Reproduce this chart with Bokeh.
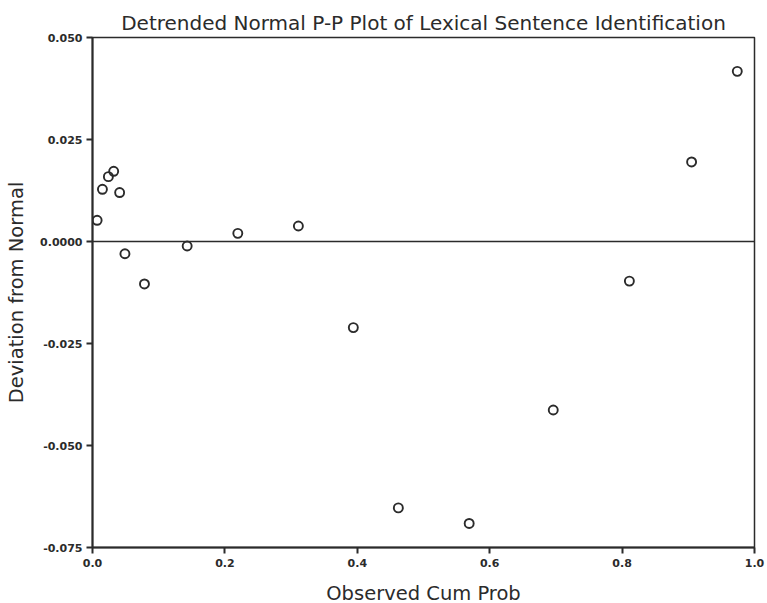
from bokeh.plotting import figure
from bokeh.models import FixedTicker, Span, Range1d
from bokeh.embed import file_html
from bokeh.resources import INLINE

observed_cum_prob = [0.007, 0.015, 0.024, 0.032, 0.041, 0.049, 0.0785, 0.143, 0.2195,
                     0.311, 0.394, 0.462, 0.569, 0.696, 0.811, 0.905, 0.974]
deviation = [0.0052, 0.0128, 0.0159, 0.0172, 0.0120, -0.0030, -0.0104, -0.0011, 0.0020,
             0.0038, -0.0211, -0.0653, -0.0691, -0.0413, -0.0097, 0.0195, 0.0417]

x_ticks = [0.0, 0.2, 0.4, 0.6, 0.8, 1.0]
x_tick_labels = ["0.0", "0.2", "0.4", "0.6", "0.8", "1.0"]
y_ticks = [0.05, 0.025, 0.0, -0.025, -0.05, -0.075]
y_tick_labels = ["0.050", "0.025", "0.0000", "-0.025", "-0.050", "-0.075"]

title_text = "Detrended Normal P-P Plot of Lexical Sentence Identification"
x_title = "Observed Cum Prob"
y_title = "Deviation from Normal"

FONT = "DejaVu Sans"
INK = "#2b2b2b"

p = figure(frame_width=662, frame_height=510, output_backend="svg", toolbar_location=None,
           x_range=Range1d(0, 1), y_range=Range1d(-0.075, 0.05),
           min_border_left=92, min_border_right=12, min_border_top=37, min_border_bottom=55)

p.title.text = title_text
p.title.align = "center"
p.title.text_font = FONT
p.title.text_font_size = "20px"
p.title.text_font_style = "normal"
p.title.text_color = INK
p.title.standoff = 6

p.xgrid.visible = False
p.ygrid.visible = False
p.outline_line_color = INK
p.outline_line_width = 1.5
p.outline_line_alpha = 1.0

for ax in (p.xaxis[0], p.yaxis[0]):
    ax.axis_line_color = INK
    ax.axis_line_width = 2
    ax.major_tick_line_color = INK
    ax.major_tick_line_width = 2
    ax.major_tick_out = 6
    ax.major_tick_in = 0
    ax.minor_tick_line_color = None
    ax.major_label_text_font = FONT
    ax.major_label_text_font_size = "11px"
    ax.major_label_text_font_style = "bold"
    ax.major_label_text_color = INK
    ax.axis_label_text_font = FONT
    ax.axis_label_text_font_size = "19.5px"
    ax.axis_label_text_font_style = "normal"
    ax.axis_label_text_color = INK

p.xaxis[0].ticker = FixedTicker(ticks=x_ticks)
p.xaxis[0].major_label_overrides = dict(zip(x_ticks, x_tick_labels))
p.xaxis[0].axis_label = x_title
p.xaxis[0].major_label_standoff = 5
p.xaxis[0].axis_label_standoff = 12

p.yaxis[0].ticker = FixedTicker(ticks=y_ticks)
p.yaxis[0].major_label_overrides = dict(zip(y_ticks, y_tick_labels))
p.yaxis[0].axis_label = y_title
p.yaxis[0].major_label_standoff = 4
p.yaxis[0].axis_label_standoff = 9

p.add_layout(Span(location=0, dimension="width", line_color=INK, line_width=1.5))

p.scatter(observed_cum_prob, deviation, marker="circle", size=9,
          fill_color=None, line_color=INK, line_width=1.9)

open("out.html", "w").write(file_html(p, INLINE))
